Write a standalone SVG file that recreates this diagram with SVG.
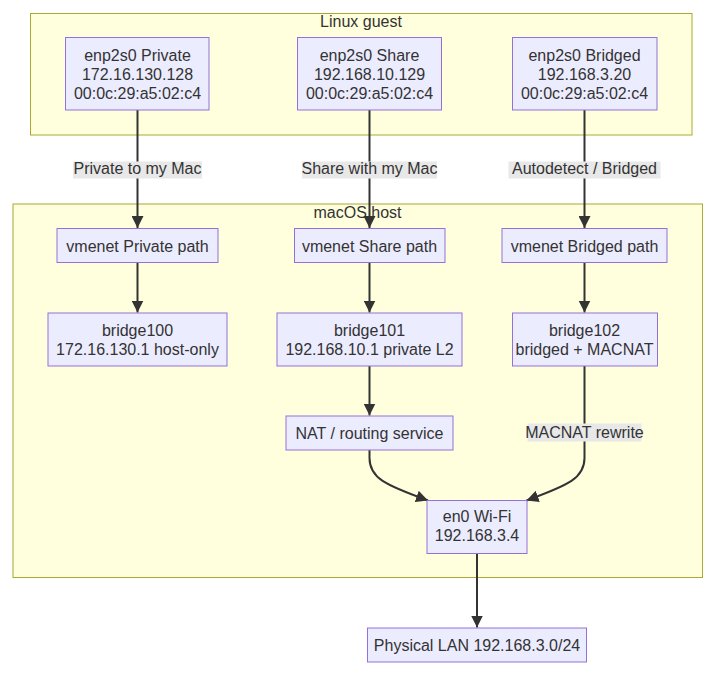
<svg xmlns="http://www.w3.org/2000/svg" width="715" height="675" viewBox="0 0 715 675">
<defs>
<style>
text{font-family:"Liberation Sans",Arial,sans-serif;font-size:16px;fill:#333333;text-anchor:middle}
.cluster{fill:#ffffde;stroke:#aaaa33;stroke-width:1}
.node rect{fill:#ececff;stroke:#9370db;stroke-width:1}
.edge{fill:none;stroke:#333333;stroke-width:2}
.lbl{fill:#e8e8e8}
</style>
<marker id="arrow" markerUnits="userSpaceOnUse" viewBox="0 0 12 12" refX="12" refY="6" markerWidth="12" markerHeight="12" orient="auto">
<path d="M0,0 L12,6 L0,12 z" fill="#333333"/>
</marker>
</defs>
<rect width="715" height="675" fill="#ffffff"/>
<g id="cluster-linux">
<rect class="cluster" x="30.5" y="13.5" width="661.5" height="121.5"/>
<text x="361" y="27">Linux guest</text>
</g>
<g id="cluster-macos">
<rect class="cluster" x="13" y="204" width="689.5" height="373.5"/>
<text x="357.5" y="218">macOS host</text>
</g>
<g id="connectors">
<path class="edge" d="M137.5,110 V228" marker-end="url(#arrow)"/>
<path class="edge" d="M369.5,110 V228" marker-end="url(#arrow)"/>
<path class="edge" d="M584.5,110 V228" marker-end="url(#arrow)"/>
<path class="edge" d="M137.5,263 V312.5" marker-end="url(#arrow)"/>
<path class="edge" d="M369.5,263 V312.5" marker-end="url(#arrow)"/>
<path class="edge" d="M584.5,263 V312.5" marker-end="url(#arrow)"/>
<path class="edge" d="M369.5,366 V415.5" marker-end="url(#arrow)"/>
<path class="edge" d="M369.5,450 V458 C369.5,478 385,485 428,500.5" marker-end="url(#arrow)"/>
<path class="edge" d="M584.5,366 V458 C584.5,478 569,485 526.5,500.5" marker-end="url(#arrow)"/>
<path class="edge" d="M477,553.5 V627.5" marker-end="url(#arrow)"/>
<rect class="lbl" x="73" y="161.5" width="129" height="17"/>
<text x="137.5" y="174">Private to my Mac</text>
<rect class="lbl" x="302" y="161.5" width="135" height="17"/>
<text x="369.5" y="174">Share with my Mac</text>
<rect class="lbl" x="508.5" y="161.5" width="152" height="17"/>
<text x="584.5" y="174">Autodetect / Bridged</text>
<rect class="lbl" x="527.5" y="423.5" width="114" height="18"/>
<text x="584.5" y="438">MACNAT rewrite</text>
</g>
<g id="n-priv-guest" class="node">
<rect x="65.5" y="37.5" width="143.5" height="72.5"/>
<text x="137.5" y="61">enp2s0 Private</text>
<text x="137.5" y="80">172.16.130.128</text>
<text x="137.5" y="99">00:0c:29:a5:02:c4</text>
</g>
<g id="n-share-guest" class="node">
<rect x="297.5" y="37.5" width="144" height="72.5"/>
<text x="369.5" y="61">enp2s0 Share</text>
<text x="369.5" y="80">192.168.10.129</text>
<text x="369.5" y="99">00:0c:29:a5:02:c4</text>
</g>
<g id="n-bridged-guest" class="node">
<rect x="512.5" y="37.5" width="144.5" height="72.5"/>
<text x="584.5" y="61">enp2s0 Bridged</text>
<text x="584.5" y="80">192.168.3.20</text>
<text x="584.5" y="99">00:0c:29:a5:02:c4</text>
</g>
<g id="n-vmenet-priv" class="node">
<rect x="57" y="228.5" width="161" height="34"/>
<text x="137.5" y="251.5">vmenet Private path</text>
</g>
<g id="n-vmenet-share" class="node">
<rect x="294.5" y="228.5" width="150.5" height="34"/>
<text x="369.5" y="251.5">vmenet Share path</text>
</g>
<g id="n-vmenet-bridged" class="node">
<rect x="502" y="228.5" width="165" height="34"/>
<text x="584.5" y="251.5">vmenet Bridged path</text>
</g>
<g id="n-bridge100" class="node">
<rect x="48" y="313" width="179" height="53"/>
<text x="137.5" y="335.5">bridge100</text>
<text x="137.5" y="355">172.16.130.1 host-only</text>
</g>
<g id="n-bridge101" class="node">
<rect x="277" y="313" width="185" height="53"/>
<text x="369.5" y="335.5">bridge101</text>
<text x="369.5" y="355">192.168.10.1 private L2</text>
</g>
<g id="n-bridge102" class="node">
<rect x="512.5" y="313" width="145" height="53"/>
<text x="584.5" y="335.5">bridge102</text>
<text x="584.5" y="355">bridged + MACNAT</text>
</g>
<g id="n-nat" class="node">
<rect x="286" y="416" width="167" height="34"/>
<text x="369.5" y="438.5">NAT / routing service</text>
</g>
<g id="n-en0" class="node">
<rect x="427" y="500.5" width="100" height="53"/>
<text x="477" y="522">en0 Wi-Fi</text>
<text x="477" y="541">192.168.3.4</text>
</g>
<g id="n-lan" class="node">
<rect x="367.5" y="628" width="219" height="34"/>
<text x="477" y="651">Physical LAN 192.168.3.0/24</text>
</g>
</svg>
